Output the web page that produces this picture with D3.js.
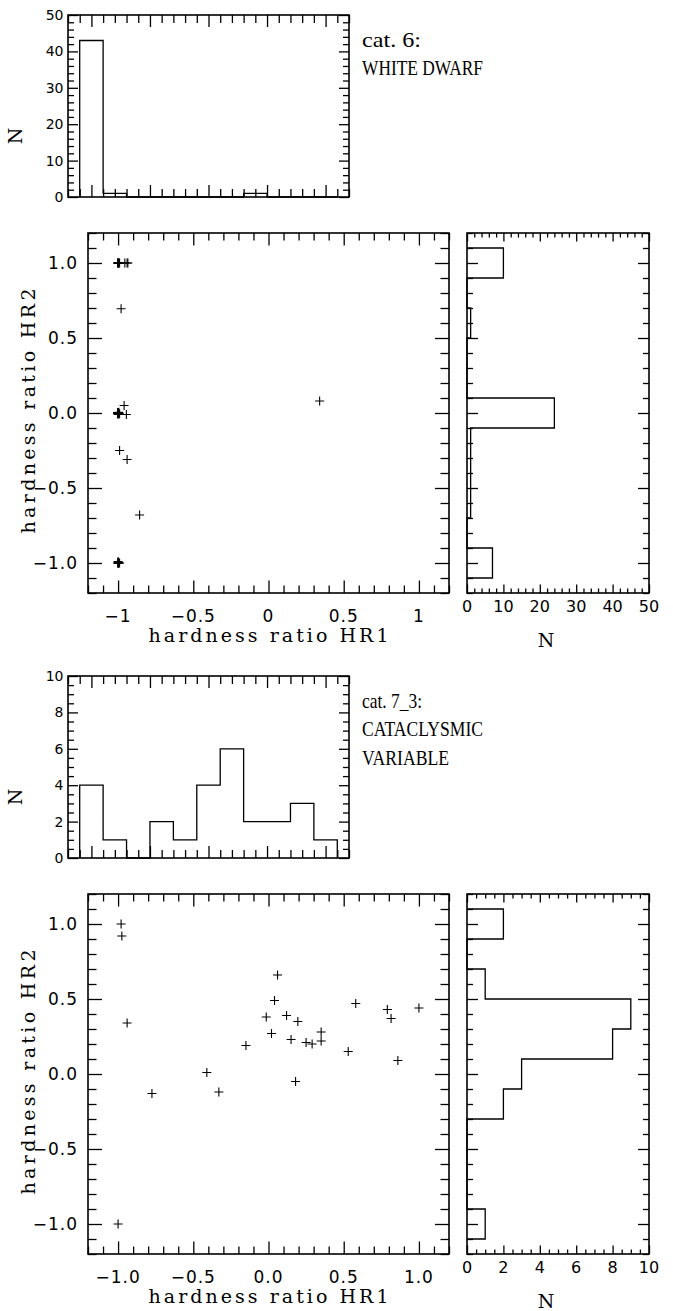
<!DOCTYPE html>
<html>
<head>
<meta charset="utf-8">
<script src="https://cdn.jsdelivr.net/npm/d3@7"></script>
<style>
  body { margin: 0; background: #fff; }
  text { fill: #000; }
</style>
</head>
<body>
<svg id="chart"></svg>
<script>
// histogram bin edges along HR1 / HR2
const binEdges = [-1.1, -0.9, -0.7, -0.5, -0.3, -0.1, 0.1, 0.3, 0.5, 0.7, 0.9, 1.1];

// cat. 6 WHITE DWARF
const cat6Hr1Counts = [43, 1, 0, 0, 0, 0, 0, 1, 0, 0, 0];
const cat6Hr2Counts = [7, 0, 1, 1, 1, 24, 0, 0, 1, 0, 10];
const cat6Hr1 = [
  -1.0, -1.0, -1.0, -1.0, -1.0, -0.995, -0.99, -0.955, -0.94, -0.935,
  -0.98,
  -1.0, -1.0, -1.0, -1.0, -1.0, -1.0, -1.0, -1.0, -1.0, -1.0, -1.0, -1.0, -1.0, -1.0, -1.0, -1.0, -1.0, -1.0,
  -1.0, -0.995, -0.96, -0.945, -0.99, 0.34,
  -0.99, -0.94, -0.857,
  -1.0, -1.0, -1.0, -1.0, -0.995, -0.99, -1.0
];
const cat6Hr2 = [
  1.0, 1.0, 1.0, 1.0, 1.0, 1.0, 1.0, 1.0, 1.0, 1.0,
  0.695,
  0.0, 0.0, 0.0, 0.0, 0.0, 0.0, 0.0, 0.0, 0.0, 0.0, 0.0, 0.0, 0.0, 0.0, 0.0, 0.0, 0.0, 0.0,
  -0.01, 0.005, 0.05, -0.01, -0.005, 0.08,
  -0.25, -0.31, -0.68,
  -1.0, -1.0, -1.0, -1.0, -1.0, -1.0, -0.99
];

// cat. 7_3 CATACLYSMIC VARIABLE
const cat73Hr1Counts = [4, 1, 0, 2, 1, 4, 6, 2, 2, 3, 1];
const cat73Hr2Counts = [1, 0, 0, 0, 2, 3, 8, 9, 1, 0, 2];
const cat73Hr1 = [-0.98, -0.975, -0.94, -1.0, -0.775, -0.41, -0.33, -0.15, -0.015, 0.02, 0.04, 0.06, 0.12,
  0.15, 0.195, 0.18, 0.25, 0.29, 0.35, 0.35, 0.53, 0.58, 0.79, 0.815, 0.86, 1.0];
const cat73Hr2 = [1.0, 0.92, 0.34, -1.0, -0.13, 0.01, -0.12, 0.19, 0.38, 0.27, 0.49, 0.66, 0.39,
  0.23, 0.35, -0.05, 0.21, 0.2, 0.28, 0.22, 0.15, 0.47, 0.43, 0.37, 0.09, 0.44];

// tick labels
const hrTickValues = [-1, -0.5, 0, 0.5, 1];
const cat6Hr1Labels = ["\u22121", "\u22120.5", "0", "0.5", "1"];
const cat73Hr1Labels = ["\u22121.0", "\u22120.5", "0.0", "0.5", "1.0"];
const hr2Labels = ["\u22121.0", "\u22120.5", "0.0", "0.5", "1.0"];
const cat6NTicks = [0, 10, 20, 30, 40, 50];
const cat73NTicks = [0, 2, 4, 6, 8, 10];

const cat6Text = ["cat. 6:", "WHITE DWARF"];
const cat73Text = ["cat. 7_3:", "CATACLYSMIC", "VARIABLE"];

const W = 673, H = 1311;
const svg = d3.select("#chart").attr("width", W).attr("height", H);
svg.append("rect").attr("width", W).attr("height", H).attr("fill", "#fff");

const NUM_FONT = "'DejaVu Sans', sans-serif";
const TITLE_FONT = "'DejaVu Serif', serif";
const CAT_FONT = "'Liberation Serif', serif";

const panels = [
  { shift: 0, hr1Counts: cat6Hr1Counts, hr2Counts: cat6Hr2Counts, hr1: cat6Hr1, hr2: cat6Hr2,
    nMax: 50, nTicks: cat6NTicks, nMinor: 25, nMajor: 10, hr1Labels: cat6Hr1Labels,
    text: cat6Text, textLen: [59, 121] },
  { shift: 661, hr1Counts: cat73Hr1Counts, hr2Counts: cat73Hr2Counts, hr1: cat73Hr1, hr2: cat73Hr2,
    nMax: 10, nTicks: cat73NTicks, nMinor: 20, nMajor: 2, hr1Labels: cat73Hr1Labels,
    text: cat73Text, textLen: [60, 121, 87] }
];

function isMajorHr(v) {
  return Math.abs(v * 2 - Math.round(v * 2)) < 1e-9;
}

// inward ticks on one side of a frame, two lengths
function sideTicks(g, axisFn, scale, transform, values, majorTest, minorLen, majorLen) {
  const minor = values.filter(v => !majorTest(v));
  const major = values.filter(majorTest);
  [[minor, minorLen], [major, majorLen]].forEach(([vals, len]) => {
    g.append("g")
      .attr("transform", transform)
      .attr("color", "#000")
      .call(axisFn(scale).tickValues(vals).tickSize(-len).tickFormat(""))
      .call(a => a.select(".domain").remove())
      .call(a => a.selectAll("text").remove())
      .call(a => a.selectAll("line").attr("stroke-width", 1.3));
  });
}

function frame(g, x, y) {
  g.append("rect")
    .attr("x", x.range()[0]).attr("y", y.range()[1])
    .attr("width", x.range()[1] - x.range()[0])
    .attr("height", y.range()[0] - y.range()[1])
    .attr("fill", "none").attr("stroke", "#000").attr("stroke-width", 1.6);
}

function stepPoints(edges, counts) {
  const pts = [[edges[0], 0]];
  counts.forEach((c, i) => {
    pts.push([edges[i], c]);
    pts.push([edges[i + 1], c]);
  });
  pts.push([edges[edges.length - 1], 0]);
  return pts;
}

panels.forEach(p => {
  const s = p.shift;
  const hrIsMajor = isMajorHr;
  const nIsMajor = v => Math.abs(v / p.nMajor - Math.round(v / p.nMajor)) < 1e-9;

  // ---- top histogram of HR1 ----
  const hx = d3.scaleLinear().domain([-1.2, 1.2]).range([68, 349]);
  const hy = d3.scaleLinear().domain([0, p.nMax]).range([197 + s, 15 + s]);
  const gh = svg.append("g");
  const hxTicks = hx.ticks(24);
  const hyTicks = hy.ticks(p.nMinor);
  sideTicks(gh, d3.axisBottom, hx, `translate(0,${hy.range()[0]})`, hxTicks, hrIsMajor, 8, 12);
  sideTicks(gh, d3.axisTop, hx, `translate(0,${hy.range()[1]})`, hxTicks, hrIsMajor, 8, 12);
  sideTicks(gh, d3.axisLeft, hy, `translate(${hx.range()[0]},0)`, hyTicks, nIsMajor, 6, 10);
  sideTicks(gh, d3.axisRight, hy, `translate(${hx.range()[1]},0)`, hyTicks, nIsMajor, 6, 10);
  gh.append("path")
    .attr("d", d3.line().x(d => hx(d[0])).y(d => hy(d[1]))(stepPoints(binEdges, p.hr1Counts)))
    .attr("fill", "none").attr("stroke", "#000").attr("stroke-width", 1.3);
  frame(gh, hx, hy);
  gh.selectAll(".nlab").data(p.nTicks).join("text")
    .attr("x", 63.5).attr("y", d => hy(d) + 5)
    .attr("text-anchor", "end")
    .style("font", `14px ${NUM_FONT}`)
    .text(d => d);
  gh.append("text")
    .attr("transform", `translate(22,${136 + s}) rotate(-90)`)
    .attr("text-anchor", "middle")
    .style("font", `19px ${TITLE_FONT}`)
    .text("N");

  // category text
  p.text.forEach((t, i) => {
    svg.append("text")
      .attr("x", 362).attr("y", 46.5 + s + i * 28.8)
      .attr("textLength", p.textLen[i]).attr("lengthAdjust", "spacingAndGlyphs")
      .style("font", `22px ${CAT_FONT}`)
      .text(t);
  });

  // ---- scatter HR1 vs HR2 ----
  const sx = d3.scaleLinear().domain([-1.2, 1.2]).range([88, 449]);
  const sy = d3.scaleLinear().domain([-1.2, 1.2]).range([593 + s, 233 + s]);
  const gs = svg.append("g");
  const sxTicks = sx.ticks(24);
  const syTicks = sy.ticks(24);
  sideTicks(gs, d3.axisBottom, sx, `translate(0,${sy.range()[0]})`, sxTicks, hrIsMajor, 7.5, 12.5);
  sideTicks(gs, d3.axisTop, sx, `translate(0,${sy.range()[1]})`, sxTicks, hrIsMajor, 7.5, 12.5);
  sideTicks(gs, d3.axisLeft, sy, `translate(${sx.range()[0]},0)`, syTicks, hrIsMajor, 8.5, 14);
  sideTicks(gs, d3.axisRight, sy, `translate(${sx.range()[1]},0)`, syTicks, hrIsMajor, 8.5, 14);
  frame(gs, sx, sy);

  const pts = p.hr1.map((v, i) => [v, p.hr2[i]]);
  gs.selectAll(".pt").data(pts).join("path")
    .attr("d", d => {
      const x = sx(d[0]), y = sy(d[1]), r = 4.5;
      return `M${x - r},${y}H${x + r}M${x},${y - r}V${y + r}`;
    })
    .attr("stroke", "#000").attr("stroke-width", 1.1).attr("fill", "none");

  gs.selectAll(".xlab").data(hrTickValues).join("text")
    .attr("x", d => sx(d)).attr("y", 622 + s)
    .attr("text-anchor", "middle")
    .style("font", `17px ${NUM_FONT}`).style("letter-spacing", "1px")
    .text((d, i) => p.hr1Labels[i]);
  gs.selectAll(".ylab").data(hrTickValues).join("text")
    .attr("x", 78).attr("y", d => sy(d) + 6)
    .attr("text-anchor", "end")
    .style("font", `17px ${NUM_FONT}`).style("letter-spacing", "1px")
    .text((d, i) => hr2Labels[i]);
  gs.append("text")
    .attr("x", (sx.range()[0] + sx.range()[1]) / 2).attr("y", 642 + s)
    .attr("text-anchor", "middle")
    .attr("textLength", 240).attr("lengthAdjust", "spacing")
    .style("font", `19px ${TITLE_FONT}`)
    .text("hardness ratio HR1");
  gs.append("text")
    .attr("transform", `translate(35,${411 + s}) rotate(-90)`)
    .attr("text-anchor", "middle")
    .attr("textLength", 245).attr("lengthAdjust", "spacing")
    .style("font", `19px ${TITLE_FONT}`)
    .text("hardness ratio HR2");

  // ---- side histogram of HR2 ----
  const rx = d3.scaleLinear().domain([0, p.nMax]).range([467, 649]);
  const ry = sy;
  const gr = svg.append("g");
  const rxTicks = rx.ticks(p.nMinor);
  sideTicks(gr, d3.axisBottom, rx, `translate(0,${ry.range()[0]})`, rxTicks, nIsMajor, 4.5, 8.5);
  sideTicks(gr, d3.axisTop, rx, `translate(0,${ry.range()[1]})`, rxTicks, nIsMajor, 4.5, 8.5);
  sideTicks(gr, d3.axisLeft, ry, `translate(${rx.range()[0]},0)`, syTicks, hrIsMajor, 6, 11);
  sideTicks(gr, d3.axisRight, ry, `translate(${rx.range()[1]},0)`, syTicks, hrIsMajor, 6, 11);
  gr.append("path")
    .attr("d", d3.line().x(d => rx(d[1])).y(d => ry(d[0]))(stepPoints(binEdges, p.hr2Counts)))
    .attr("fill", "none").attr("stroke", "#000").attr("stroke-width", 1.3);
  frame(gr, rx, ry);
  gr.selectAll(".rlab").data(p.nTicks).join("text")
    .attr("x", d => rx(d)).attr("y", 612 + s)
    .attr("text-anchor", "middle")
    .style("font", `16px ${NUM_FONT}`)
    .text(d => d);
  gr.append("text")
    .attr("x", 546).attr("y", 647 + s)
    .attr("text-anchor", "middle")
    .style("font", `19px ${TITLE_FONT}`)
    .text("N");
});
</script>
</body>
</html>
